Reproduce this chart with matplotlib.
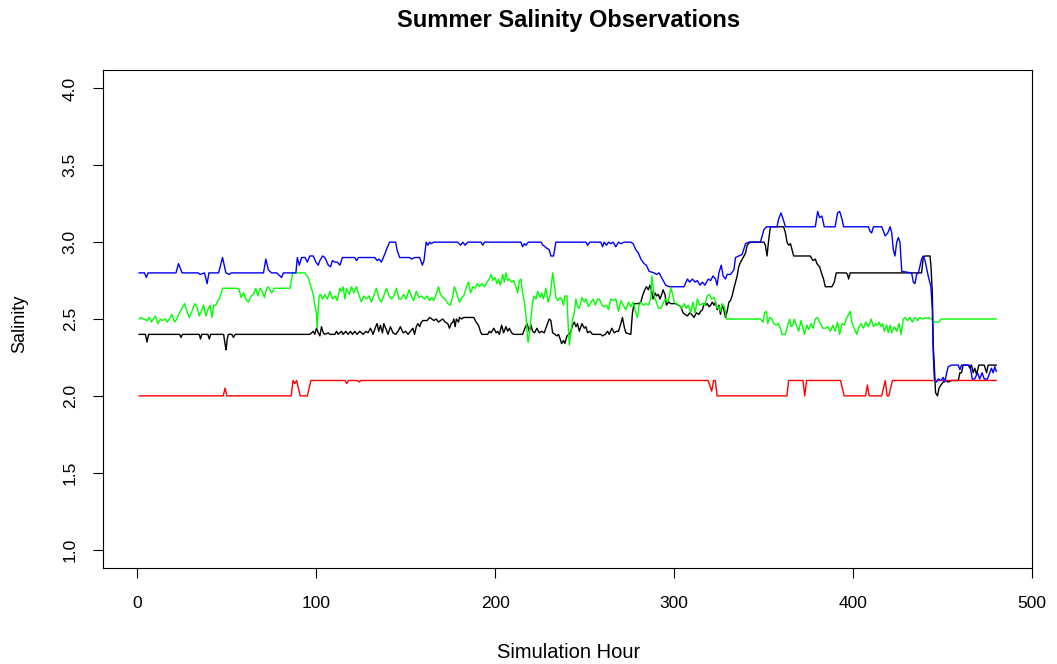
import matplotlib
matplotlib.use("Agg")
import matplotlib.pyplot as plt

plt.rcParams['font.family'] = ['Liberation Sans', 'DejaVu Sans']

# ---- data: (simulation hour, salinity) observations ----
black_obs = [(1,2.40),(4.5,2.40),(5.4,2.35),(6.3,2.40),(23.6,2.40),(24.4,2.38),(25.2,2.40),(34.6,2.40),(35.3,2.37),(36,2.40),
    (39.4,2.40),(40.2,2.37),(41,2.40),(48.2,2.40),(49.1,2.33),(49.6,2.30),(50.2,2.37),(50.9,2.40),(52.8,2.40),(53.7,2.38),
    (54.7,2.40),(96.4,2.40),(97.4,2.41),(98.3,2.42),(99.2,2.40),(100.1,2.44),(101.1,2.41),(102,2.39),(102.9,2.45),(103.9,2.41),
    (104.8,2.40),(106.7,2.41),(107.6,2.40),(110.4,2.40),(111.3,2.42),(112.2,2.40),(114.1,2.42),(115,2.40),(116.5,2.42),(117.8,2.40),
    (119.1,2.42),(120.2,2.40),(121.5,2.42),(122.8,2.40),(124.3,2.42),(126.2,2.40),(127.7,2.42),(128.9,2.41),(130.3,2.44),(131.7,2.40),
    (133.2,2.45),(134,2.47),(134.9,2.42),(135.8,2.46),(137,2.41),(137.7,2.47),(138.8,2.44),(140.1,2.40),(141.4,2.45),(142.9,2.41),
    (144.4,2.40),(145.7,2.42),(147,2.45),(148.5,2.41),(150,2.42),(151.3,2.40),(152.6,2.42),(154,2.44),(154.9,2.40),(155.9,2.45),
    (156.8,2.47),(157.8,2.45),(158.7,2.48),(159.6,2.49),(160.5,2.49),(162,2.49),(163.3,2.51),(164.6,2.50),(165.7,2.49),(167,2.50),
    (168.3,2.48),(169.4,2.49),(170.7,2.50),(172,2.48),(173.5,2.47),(174.4,2.44),(175.4,2.47),(176.3,2.48),(176.9,2.50),(177.6,2.45),
    (178.3,2.50),(179.5,2.48),(180,2.51),(181.3,2.50),(182.4,2.51),(188,2.51),(189.3,2.48),(190.6,2.46),(191.7,2.42),(192.5,2.40),
    (195.8,2.40),(196.7,2.42),(197.7,2.41),(199.2,2.44),(200.5,2.41),(201.4,2.42),(202.3,2.40),(203.6,2.46),(204.7,2.41),(206,2.45),
    (207,2.42),(207.9,2.44),(209.2,2.41),(210.3,2.40),(215.3,2.40),(216.6,2.44),(217.8,2.47),(219,2.42),(220,2.46),(220.9,2.42),
    (222,2.41),(223.3,2.44),(224.6,2.41),(225.9,2.42),(227.4,2.41),(228.9,2.46),(230.2,2.50),(231.1,2.49),(232.1,2.41),(233.4,2.40),
    (234.5,2.39),(235.4,2.40),(236.3,2.37),(237.1,2.34),(238.2,2.36),(238.9,2.34),(240.1,2.39),(241.4,2.40),(242.3,2.42),(243.3,2.46),
    (244.2,2.48),(245.1,2.45),(246,2.47),(247,2.42),(248.5,2.47),(249.8,2.44),(250.7,2.45),(251.6,2.41),(252.9,2.42),(254.4,2.40),
    (259,2.40),(260,2.39),(261.5,2.40),(262.8,2.42),(263.7,2.40),(265.2,2.44),(266.5,2.41),(267.8,2.42),(268.9,2.42),(270.2,2.47),
    (271.1,2.51),(272.1,2.45),(273,2.41),(275.8,2.40),(276.7,2.54),(277.6,2.60),(280.1,2.60),(281.4,2.61),(282.3,2.65),(283.2,2.68),
    (284.5,2.71),(285.6,2.69),(286.4,2.72),(287.5,2.68),(288.2,2.63),(289.4,2.67),(290.1,2.65),(291.2,2.66),(292,2.63),(293.1,2.66),
    (293.8,2.69),(294.9,2.66),(295.7,2.59),(296.8,2.61),(298.1,2.60),(300.9,2.60),(302.4,2.59),(303.7,2.58),(305,2.54),(306.1,2.53),
    (307.4,2.52),(308.7,2.54),(309.8,2.53),(311.1,2.51),(312.4,2.54),(313.9,2.53),(314.8,2.55),(315.8,2.56),(316.7,2.60),(317.6,2.59),
    (318.5,2.60),(319.5,2.58),(320.4,2.59),(321.3,2.61),(322.3,2.59),(323.1,2.61),(324.1,2.56),(325,2.59),(325.9,2.53),(326.8,2.59),
    (327.8,2.56),(328.7,2.51),(329.6,2.55),(330.6,2.61),(331.5,2.62),(332.4,2.65),(333.4,2.70),(334.3,2.74),(335.2,2.78),(336.1,2.84),
    (337.1,2.87),(338.6,2.90),(339.9,2.93),(340.8,2.98),(342.3,3.00),(350.1,3.00),(351,2.98),(351.9,2.91),(352.9,3.02),(353.8,3.10),
    (361.2,3.10),(362.2,3.06),(363.1,3.00),(364,2.98),(365,2.99),(365.9,2.95),(366.8,2.91),(376.1,2.91),(377.6,2.88),(378.9,2.89),
    (379.8,2.86),(381.3,2.84),(382.6,2.79),(383.5,2.76),(384.5,2.71),(388.2,2.71),(389.5,2.74),(390.6,2.80),(396.2,2.80),(396.9,2.79),
    (397.5,2.76),(398.4,2.80),(438.3,2.80),(439.2,2.90),(440.2,2.91),(443,2.91),(443.5,2.85),(444.3,2.67),(444.8,2.33),(445.4,2.20),
    (446.1,2.02),(447.2,2.00),(448,2.05),(449.1,2.07),(450.4,2.09),(451.7,2.10),(453.2,2.09),(455,2.10),(458.8,2.10),(459.7,2.15),
    (460.6,2.15),(461.5,2.20),(464.3,2.20),(465.3,2.18),(466.2,2.20),(467.1,2.15),(468,2.18),(469,2.14),(470.3,2.20),(473.3,2.20),
    (474.6,2.15),(475.5,2.20),(480,2.20)]

red_obs = [(1,2.0),(48,2.0),(49,2.05),(50,2.0),(86,2.0),(87,2.1),(88,2.08),(89,2.1),(90,2.05),(91,2.0),(95,2.0),(97,2.1),
    (116,2.1),(117,2.08),(118,2.1),(123,2.1),(124,2.09),(125,2.1),(319,2.1),(321,2.03),(322,2.1),(323,2.1),(324,2.0),(363,2.0),
    (364,2.1),(372,2.1),(373,2.0),(374,2.1),(393,2.1),(395,2.0),(407,2.0),(408,2.07),(409,2.0),(416,2.0),(418,2.1),(419,2.0),
    (420,2.0),(422,2.1),(480,2.1)]

green_obs = [(1,2.50),(2,2.51),(3.5,2.50),(5.4,2.49),(6.7,2.51),(7.8,2.48),(9,2.50),(10,2.52),(11.5,2.47),(12.8,2.50),(14,2.49),
    (15.6,2.50),(16.6,2.48),(17.9,2.50),(19.3,2.53),(20.8,2.48),(22.1,2.50),(23.1,2.53),(24.5,2.56),(26.4,2.60),(27.7,2.55),(29,2.51),
    (30.5,2.55),(32,2.60),(33.3,2.58),(34.6,2.52),(36.1,2.56),(37,2.59),(38.3,2.52),(39.4,2.56),(40.7,2.59),(41.7,2.51),(42.6,2.59),
    (43.9,2.59),(45,2.62),(45.7,2.63),(46.9,2.67),(47.6,2.70),(55.6,2.70),(56.9,2.69),(58,2.64),(59.3,2.67),(60.6,2.63),(62.1,2.61),
    (63.6,2.65),(64.9,2.66),(66.2,2.70),(67.3,2.65),(68.6,2.70),(69.8,2.68),(71,2.64),(72.3,2.70),(73.2,2.71),(75.1,2.67),(76.6,2.70),
    (85.3,2.70),(86.8,2.80),(93.6,2.80),(95.5,2.77),(96.8,2.72),(98.3,2.66),(99.2,2.59),(100.1,2.54),(100.5,2.44),(101.1,2.57),
    (101.6,2.65),(102.4,2.66),(103.5,2.63),(104.8,2.66),(106.1,2.63),(107.6,2.68),(109.1,2.63),(110.4,2.65),(111.7,2.62),(113.2,2.70),
    (114.1,2.68),(115,2.71),(116,2.63),(116.9,2.70),(118.4,2.66),(119.7,2.71),(121,2.67),(122.5,2.71),(124,2.65),(125.2,2.61),
    (126.5,2.65),(128,2.63),(129.5,2.65),(130.8,2.61),(132.1,2.65),(133.6,2.70),(135.1,2.63),(136.4,2.61),(137.7,2.65),(139.2,2.70),
    (140.7,2.65),(142,2.63),(143.3,2.65),(144.8,2.70),(146.2,2.63),(147.5,2.63),(148.8,2.66),(150.3,2.63),(151.8,2.69),(153.1,2.65),
    (154.4,2.62),(155.9,2.68),(157.4,2.64),(158.7,2.65),(160.5,2.63),(162,2.65),(163.3,2.62),(164.6,2.64),(165.7,2.62),(167,2.66),
    (168.3,2.71),(169.4,2.66),(170.7,2.64),(172,2.63),(173.5,2.60),(175,2.59),(176.3,2.65),(177.2,2.71),(178.7,2.66),(180,2.61),
    (181.3,2.64),(182.4,2.65),(183.7,2.70),(185,2.74),(186.2,2.67),(187.5,2.71),(188.8,2.70),(189.9,2.73),(191.2,2.71),(192.5,2.73),
    (194,2.71),(195.4,2.74),(196.7,2.76),(197.7,2.79),(198.6,2.75),(199.9,2.77),(201,2.73),(201.8,2.76),(202.9,2.72),(204.2,2.79),
    (205.1,2.74),(206,2.80),(207,2.75),(207.9,2.76),(209.2,2.74),(210.3,2.75),(211.6,2.71),(212.5,2.67),(213.5,2.75),(214.4,2.76),
    (215.3,2.67),(216.3,2.61),(217.2,2.52),(218.1,2.37),(218.5,2.35),(219.6,2.46),(220.9,2.61),(221.8,2.65),(222.8,2.63),(223.7,2.68),
    (225.2,2.64),(225.9,2.67),(227,2.63),(228.3,2.70),(229.6,2.61),(230.8,2.66),(232.1,2.80),(232.6,2.76),(233.9,2.64),(234.9,2.62),
    (236.3,2.64),(237.1,2.63),(238.2,2.59),(238.9,2.65),(240.1,2.65),(240.8,2.45),(241.4,2.33),(242.3,2.41),(243.3,2.50),(244.2,2.54),
    (245.1,2.63),(246,2.58),(247,2.57),(248.5,2.64),(249.8,2.61),(250.7,2.63),(252.2,2.58),(253.5,2.61),(254.8,2.63),(255.9,2.59),
    (257.2,2.63),(258.2,2.63),(259.6,2.59),(260.9,2.58),(262.2,2.59),(263.3,2.56),(264.6,2.63),(265.9,2.62),(267.4,2.63),(268.9,2.55),
    (270.2,2.62),(271.5,2.59),(273,2.56),(274.5,2.61),(275.8,2.58),(277.1,2.61),(278.6,2.54),(279.5,2.51),(280.4,2.59),(281.4,2.61),
    (282.7,2.59),(284.2,2.60),(285.6,2.59),(286.9,2.63),(287.5,2.78),(288.2,2.72),(288.8,2.65),(289.4,2.63),(290.1,2.61),(291.2,2.57),
    (292.5,2.57),(293.8,2.60),(294.9,2.63),(296.2,2.61),(297.2,2.64),(298.1,2.70),(299,2.67),(300,2.61),(301.3,2.60),(302.7,2.59),
    (304.2,2.57),(305.5,2.60),(306.8,2.57),(307.9,2.59),(309.2,2.54),(310.5,2.61),(311.7,2.54),(313,2.63),(314.3,2.59),(315.8,2.60),
    (317.2,2.59),(318.5,2.65),(319.5,2.66),(321,2.63),(322.3,2.64),(323.1,2.61),(324.1,2.57),(325,2.58),(325.9,2.55),(326.8,2.60),
    (328.1,2.58),(329.3,2.50),(348.2,2.50),(349.7,2.48),(350.5,2.54),(351.6,2.55),(352.3,2.47),(353.4,2.51),(354.7,2.50),(355.7,2.47),
    (357.1,2.46),(358.3,2.47),(359.4,2.44),(360.3,2.40),(362.2,2.40),(363.5,2.46),(364.6,2.50),(365.3,2.45),(366.4,2.46),(367.2,2.50),
    (368.3,2.46),(369.6,2.42),(370.9,2.49),(372,2.44),(372.8,2.40),(374.2,2.46),(375.2,2.43),(376.5,2.47),(377.6,2.44),(378.9,2.50),
    (380.2,2.51),(381.7,2.47),(383.2,2.44),(384.5,2.44),(385.8,2.45),(387.3,2.42),(388.7,2.46),(390,2.42),(391.3,2.48),(392.5,2.40),
    (393.8,2.47),(395.1,2.46),(396.2,2.50),(397.5,2.53),(398.4,2.55),(399.3,2.48),(400.6,2.44),(402.1,2.40),(403,2.44),(404.5,2.47),
    (405.8,2.44),(407.1,2.48),(408.6,2.45),(410.1,2.50),(411.4,2.45),(412.6,2.47),(413.8,2.46),(414.5,2.48),(415.6,2.45),(416.5,2.47),
    (417.5,2.42),(418.8,2.46),(419.7,2.41),(420.7,2.46),(421.6,2.41),(423.1,2.45),(424.4,2.42),(425.7,2.47),(426.8,2.40),(428.1,2.50),
    (429,2.51),(430.5,2.49),(431.8,2.51),(433.1,2.48),(434.6,2.51),(436.1,2.49),(437.4,2.51),(438.7,2.50),(442,2.51),(443.9,2.50),
    (445.4,2.48),(448,2.48),(449.1,2.50),(480,2.50)]

blue_obs = [(1,2.80),(4,2.80),(5,2.77),(6,2.80),(21.6,2.80),(23,2.86),(25,2.80),(34,2.80),(35,2.79),(37.5,2.80),(39,2.73),(40,2.80),
    (45.4,2.80),(47.6,2.90),(49.5,2.80),(51.3,2.79),(52.5,2.80),(70.5,2.80),(71.8,2.89),(73.2,2.82),(75,2.80),(78,2.80),(78.8,2.79),
    (80.6,2.77),(81.6,2.80),(88.6,2.80),(89.4,2.90),(90.5,2.85),(91.8,2.90),(93.7,2.90),(95,2.87),(96.4,2.91),(98.3,2.91),(99.8,2.87),
    (101.1,2.85),(102,2.88),(103.5,2.91),(104.8,2.90),(106.7,2.85),(108,2.84),(109,2.88),(110.4,2.87),(111.7,2.87),(113.2,2.85),
    (114.6,2.90),(121.5,2.90),(122.5,2.88),(123.6,2.90),(132.7,2.90),(134,2.88),(135,2.89),(136.4,2.87),(138.2,2.92),(139.5,2.96),
    (141,3.00),(144.4,3.00),(145.1,2.95),(146.6,2.90),(152.2,2.90),(153.2,2.89),(155,2.90),(157.8,2.90),(159.3,2.85),(160.2,2.88),
    (161.4,3.00),(162.4,2.98),(163.3,3.00),(164.2,2.99),(165.7,3.00),(179,3.00),(180.6,2.98),(181.9,3.00),(183.2,2.98),(184.6,3.00),
    (192.1,3.00),(193,2.98),(194,3.00),(214.4,3.00),(215.3,2.97),(216.3,2.99),(217.2,2.98),(218.5,3.00),(225.6,3.00),(226.7,2.98),
    (227.8,2.97),(228.9,2.96),(230.2,2.95),(231.1,2.91),(232.6,2.91),(233.9,3.00),(250.7,3.00),(251.6,2.98),(252.9,3.00),(259,3.00),
    (260,2.97),(260.9,3.00),(262.2,2.98),(263.3,3.00),(264.6,2.99),(265.9,3.00),(267.4,2.97),(268.9,3.00),(270.2,2.99),(272,3.00),
    (275.8,3.00),(277.1,2.99),(278.6,2.95),(280,2.93),(281.4,2.89),(283.2,2.86),(284.5,2.85),(286,2.81),(288.8,2.80),(290.1,2.79),
    (291.6,2.80),(293.4,2.76),(295.3,2.72),(297.2,2.71),(305.5,2.71),(307.4,2.76),(308.7,2.74),(310.2,2.76),(311.7,2.74),(313,2.75),
    (314.4,2.72),(315.8,2.74),(317.2,2.72),(319.1,2.76),(320.4,2.75),(321.7,2.78),(323.1,2.76),(324,2.72),(325,2.80),(326.3,2.85),
    (327.4,2.78),(328.7,2.76),(329.6,2.79),(331.5,2.79),(333.4,2.82),(334.3,2.90),(336.1,2.91),(338,2.92),(339.9,2.99),(341.7,3.00),
    (348.2,3.00),(349.2,3.04),(350.1,3.08),(351.6,3.10),(357.5,3.10),(358.4,3.15),(359.7,3.19),(360.9,3.15),(362.2,3.10),(378.9,3.10),
    (380.2,3.20),(381.3,3.16),(382.6,3.17),(383.9,3.10),(390,3.10),(391.3,3.19),(392.5,3.20),(393.8,3.15),(394.7,3.10),(408.6,3.10),
    (409.5,3.07),(410.4,3.06),(411.4,3.10),(416,3.10),(417,3.07),(417.9,3.04),(419.4,3.06),(420.7,3.10),(421.6,3.06),(422.5,2.95),
    (423.4,2.91),(424.4,3.00),(425.3,3.03),(426.2,3.00),(427.2,2.81),(432.7,2.80),(433.7,2.74),(434.6,2.73),(435.5,2.79),(436.5,2.80),
    (438.3,2.89),(439.2,2.91),(440.2,2.88),(442,2.78),(443.5,2.71),(444.3,2.56),(444.8,2.28),(445.4,2.11),(446.7,2.09),(447.6,2.11),
    (449.1,2.10),(450.4,2.12),(451.3,2.09),(452.3,2.15),(453.2,2.19),(455,2.20),(458.8,2.20),(459.7,2.17),(460.6,2.20),(465.3,2.20),
    (466.6,2.11),(468,2.11),(469.5,2.15),(470.8,2.11),(472.1,2.15),(473.3,2.11),(475.1,2.11),(476.4,2.15),(477.3,2.18),(478.3,2.15),
    (479.2,2.19),(480,2.16)]

x_ticks = [0, 100, 200, 300, 400, 500]
y_ticks = [1.0, 1.5, 2.0, 2.5, 3.0, 3.5, 4.0]
y_tick_labels = ["1.0", "1.5", "2.0", "2.5", "3.0", "3.5", "4.0"]

series = [(black_obs, "black"), (red_obs, "#FF0000"), (green_obs, "#00FF00"), (blue_obs, "#0000FF")]

fig = plt.figure(figsize=(10.57, 6.64), dpi=100)
ax = fig.add_axes([103/1057, 1 - 568/664, (1032 - 103)/1057, (568 - 70)/664])

for obs, col in series:
    hrs = [p[0] for p in obs]
    vals = [p[1] for p in obs]
    ax.plot(hrs, vals, color=col, lw=1.0)

ax.set_xlim(-19.2, 499.6)
ax.set_ylim(0.88, 4.12)
ax.set_xticks(x_ticks)
ax.set_xticklabels([str(t) for t in x_ticks])
ax.set_yticks(y_ticks)
ax.set_yticklabels(y_tick_labels, rotation=90, va='center')
ax.tick_params(direction='out', length=7.2, width=0.8, labelsize=12.5, color='black')
ax.tick_params(axis='x', pad=13)
ax.tick_params(axis='y', pad=11)
for s in ax.spines.values():
    s.set_linewidth(0.8)
    s.set_color('black')

fig.text(0.538, 1 - 20/664, "Summer Salinity Observations", ha='center', va='center',
         fontsize=17, fontweight='bold')
fig.text(0.538, 1 - 652/664, "Simulation Hour", ha='center', va='center', fontsize=14.5)
fig.text(20/1057, 1 - 324/664, "Salinity", ha='center', va='center', fontsize=13, rotation=90)

fig.savefig("out.png", dpi=100)
